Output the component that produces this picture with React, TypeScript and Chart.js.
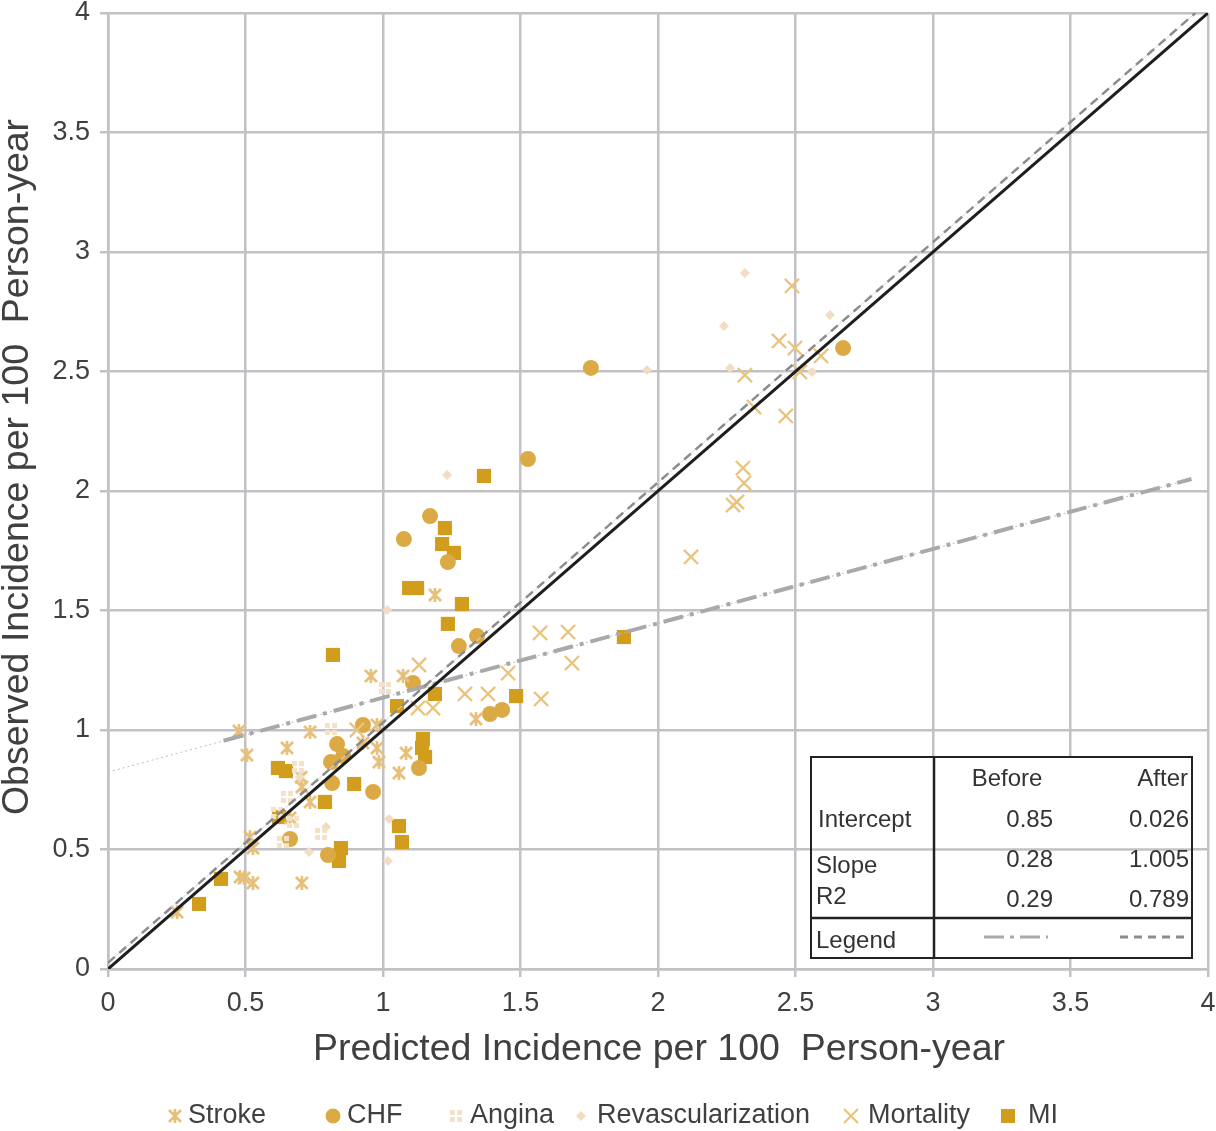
import React, { useEffect, useRef } from 'react';
import { Chart, registerables } from 'chart.js';

Chart.register(...registerables);

// ---------- data ----------
const xTickValues = [0, 0.5, 1, 1.5, 2, 2.5, 3, 3.5, 4];
const yTickValues = [0, 0.5, 1, 1.5, 2, 2.5, 3, 3.5, 4];

const strokePts: number[][] = [
  [0.476, 0.996], [0.505, 0.895], [0.651, 0.925], [0.702, 0.803], [0.705, 0.762],
  [0.662, 0.632], [0.516, 0.552], [0.527, 0.506], [0.48, 0.385], [0.495, 0.381],
  [0.527, 0.36], [0.705, 0.36], [0.251, 0.238], [0.956, 1.226], [1.073, 1.226],
  [0.735, 0.992], [0.978, 1.021], [0.927, 0.946], [0.978, 0.925], [0.985, 0.866],
  [1.084, 0.904], [1.058, 0.82], [0.735, 0.699], [1.189, 1.565], [1.338, 1.046],
];

const chfPts: number[][] = [
  [1.756, 2.515], [2.673, 2.598], [1.527, 2.134], [1.171, 1.895], [1.076, 1.799],
  [1.236, 1.703], [1.342, 1.393], [1.276, 1.351], [1.109, 1.197], [0.927, 1.021],
  [0.833, 0.941], [0.855, 0.891], [0.811, 0.866], [0.815, 0.778], [0.964, 0.741],
  [1.131, 0.841], [1.389, 1.067], [1.433, 1.084], [0.662, 0.544], [0.8, 0.477],
];

const anginaPts: number[][] = [
  [1.007, 1.176], [0.811, 1.004], [0.691, 0.845], [0.651, 0.72], [0.615, 0.653],
  [0.673, 0.615], [0.775, 0.565], [0.636, 0.531],
];

const revascPts: number[][] = [
  [2.316, 2.912], [2.24, 2.69], [2.625, 2.736], [2.262, 2.515], [1.96, 2.506],
  [2.56, 2.498], [1.233, 2.067], [1.015, 1.502], [1.022, 0.628], [1.018, 0.452],
  [0.793, 0.594], [0.731, 0.49], [0.698, 0.803],
];

const mortalityPts: number[][] = [
  [2.487, 2.858], [2.44, 2.628], [2.498, 2.598], [2.593, 2.565], [2.516, 2.498],
  [2.316, 2.485], [2.349, 2.351], [2.465, 2.314], [2.309, 2.096], [2.313, 2.033],
  [2.273, 1.941], [2.287, 1.954], [2.12, 1.724], [1.571, 1.406], [1.673, 1.41],
  [1.687, 1.28], [1.455, 1.238], [1.298, 1.151], [1.382, 1.151], [1.575, 1.13],
  [1.131, 1.272], [1.127, 1.092], [1.182, 1.092], [0.905, 1.0],
];

const miPts: number[][] = [
  [1.367, 2.063], [1.225, 1.845], [1.215, 1.778], [1.258, 1.741], [1.095, 1.594],
  [1.124, 1.594], [1.287, 1.527], [1.236, 1.444], [0.818, 1.314], [1.876, 1.389],
  [1.484, 1.142], [1.189, 1.151], [1.051, 1.1], [1.145, 0.962], [1.142, 0.925],
  [1.153, 0.887], [0.618, 0.841], [0.647, 0.828], [0.895, 0.774], [0.789, 0.699],
  [0.622, 0.636], [1.058, 0.598], [1.069, 0.531], [0.847, 0.506], [0.84, 0.452],
  [0.411, 0.377], [0.331, 0.272],
];

const identityLine: number[][] = [[0, 0], [4, 4]];
const afterFitLine: number[][] = [[0, 0.026], [3.954, 4]];
const beforeFitFull: number[][] = [[0, 0.824], [3.94, 2.05]];
const beforeFitThick: number[][] = [[0.42, 0.955], [3.94, 2.05]];

const legendLabels = ['Stroke', 'CHF', 'Angina', 'Revascularization', 'Mortality', 'MI'];

const tableHeader = ['Before', 'After'];
const tableRowLabels = ['Intercept', 'Slope', 'R2', 'Legend'];
const beforeValues = ['0.85', '0.28', '0.29'];
const afterValues = ['0.026', '1.005', '0.789'];

const xTitle = 'Predicted Incidence per 100  Person-year';
const yTitle = 'Observed Incidence per 100  Person-year';

// ---------- styles ----------
const FONT = "'Liberation Sans', Arial, Helvetica, sans-serif";
const GRID = '#c2c2c6';
const TEXT = '#404040';
const C_STROKE = '#e6c07a';
const C_CHF = '#dcaa45';
const C_ANGINA = '#f2e2c6';
const C_REVASC = '#f3ddc2';
const C_MORT = '#e9c47f';
const C_MI = '#d29c1c';
const C_BEFORE = '#a9a9a9';
const C_AFTER = '#8c8c8c';

const toXY = (arr: number[][]) => arr.map(([x, y]) => ({ x, y }));

function makeStrokeMarker(color: string) {
  const c = document.createElement('canvas');
  c.width = 16; c.height = 16;
  const g = c.getContext('2d')!;
  g.strokeStyle = color; g.lineWidth = 2.7;
  g.beginPath();
  g.moveTo(2, 2); g.lineTo(14, 14);
  g.moveTo(14, 2); g.lineTo(2, 14);
  g.moveTo(8, 1); g.lineTo(8, 15);
  g.stroke();
  return c;
}

function makeAnginaMarker(color: string) {
  const c = document.createElement('canvas');
  c.width = 12; c.height = 12;
  const g = c.getContext('2d')!;
  g.fillStyle = color;
  g.fillRect(0, 0, 5, 5); g.fillRect(7, 0, 5, 5);
  g.fillRect(0, 7, 5, 5); g.fillRect(7, 7, 5, 5);
  return c;
}

export default function App() {
  const ref = useRef<HTMLCanvasElement | null>(null);

  useEffect(() => {
    const canvas = ref.current;
    if (!canvas) return;
    const strokeImg = makeStrokeMarker(C_STROKE);
    const anginaImg = makeAnginaMarker(C_ANGINA);

    const overlay = {
      id: 'overlay',
      afterDatasetsDraw(chart: any) {
        const ctx = chart.ctx as CanvasRenderingContext2D;
        const ys = chart.scales.y;
        ctx.save();
        // table
        const L = 811, T = 757, R = 1192, B = 958, D = 934, H = 918;
        ctx.fillStyle = '#ffffff';
        ctx.fillRect(L, T, R - L, B - T);
        const y05 = ys.getPixelForValue(0.5);
        ctx.strokeStyle = GRID; ctx.lineWidth = 2.5;
        ctx.beginPath(); ctx.moveTo(L, y05); ctx.lineTo(R, y05); ctx.stroke();
        ctx.strokeStyle = '#222222'; ctx.lineWidth = 2;
        ctx.strokeRect(L, T, R - L, B - T);
        ctx.lineWidth = 2.5;
        ctx.beginPath();
        ctx.moveTo(D, T); ctx.lineTo(D, B);
        ctx.moveTo(L, H); ctx.lineTo(R, H);
        ctx.stroke();
        ctx.fillStyle = '#333333';
        ctx.font = `24px ${FONT}`;
        ctx.textBaseline = 'middle';
        ctx.textAlign = 'center';
        ctx.fillText(tableHeader[0], 1007, 779);
        ctx.textAlign = 'right';
        ctx.fillText(tableHeader[1], 1188, 779);
        ctx.textAlign = 'left';
        ctx.fillText(tableRowLabels[0], 818, 820);
        ctx.fillText(tableRowLabels[1], 816, 866);
        ctx.fillText(tableRowLabels[2], 816, 897);
        ctx.fillText(tableRowLabels[3], 816, 941);
        ctx.textAlign = 'right';
        const rowsY = [820, 860, 900];
        beforeValues.forEach((v, i) => ctx.fillText(v, 1053, rowsY[i]));
        afterValues.forEach((v, i) => ctx.fillText(v, 1189, rowsY[i]));
        // legend lines in table
        ctx.lineWidth = 3;
        ctx.strokeStyle = C_BEFORE;
        ctx.setLineDash([20, 6, 4, 6]);
        ctx.beginPath(); ctx.moveTo(984, 937); ctx.lineTo(1048, 937); ctx.stroke();
        ctx.strokeStyle = C_AFTER;
        ctx.setLineDash([8, 6]);
        ctx.beginPath(); ctx.moveTo(1120, 937); ctx.lineTo(1184, 937); ctx.stroke();
        ctx.setLineDash([]);
        ctx.restore();
      },
      afterDraw(chart: any) {
        const ctx = chart.ctx as CanvasRenderingContext2D;
        ctx.save();
        ctx.fillStyle = TEXT;
        ctx.font = `37.5px ${FONT}`;
        ctx.textAlign = 'center';
        ctx.textBaseline = 'middle';
        const ca = chart.chartArea;
        ctx.fillText(xTitle, (ca.left + ca.right) / 2 + 1, 1050);
        ctx.save();
        ctx.translate(18, 467);
        ctx.rotate(-Math.PI / 2);
        ctx.fillText(yTitle, 0, 0);
        ctx.restore();

        // legend
        const ly = 1116;
        const markerX = [175, 333, 456, 581, 851, 1008];
        const textX = [188, 347, 470, 597, 868, 1028];
        ctx.font = `27px ${FONT}`;
        ctx.textAlign = 'left';
        legendLabels.forEach((lab, i) => {
          const mx = markerX[i];
          if (i === 0) ctx.drawImage(strokeImg, mx - 8, ly - 8);
          if (i === 1) {
            ctx.fillStyle = C_CHF;
            ctx.beginPath(); ctx.arc(mx, ly, 7.5, 0, Math.PI * 2); ctx.fill();
          }
          if (i === 2) ctx.drawImage(anginaImg, mx - 6, ly - 6);
          if (i === 3) {
            ctx.fillStyle = C_REVASC;
            ctx.beginPath();
            ctx.moveTo(mx - 5, ly); ctx.lineTo(mx, ly - 5); ctx.lineTo(mx + 5, ly); ctx.lineTo(mx, ly + 5);
            ctx.closePath(); ctx.fill();
          }
          if (i === 4) {
            ctx.strokeStyle = C_MORT; ctx.lineWidth = 2.3;
            ctx.beginPath();
            ctx.moveTo(mx - 7, ly - 7); ctx.lineTo(mx + 7, ly + 7);
            ctx.moveTo(mx + 7, ly - 7); ctx.lineTo(mx - 7, ly + 7);
            ctx.stroke();
          }
          if (i === 5) {
            ctx.fillStyle = C_MI;
            ctx.fillRect(mx - 7, ly - 7, 14, 14);
          }
          ctx.fillStyle = TEXT;
          ctx.fillText(lab, textX[i], ly);
        });
        ctx.restore();
      },
    };

    const lineDs = (data: number[][], color: string, width: number, dash: number[], order: number) => ({
      type: 'line' as const,
      data: toXY(data),
      borderColor: color,
      borderWidth: width,
      borderDash: dash,
      pointRadius: 0,
      showLine: true,
      fill: false,
      order,
    });

    const zeroPad = (s: any) => {
      s.paddingLeft = 0; s.paddingRight = 0; s.paddingTop = 0; s.paddingBottom = 0;
    };

    const chart = new Chart(canvas, {
      type: 'scatter',
      data: {
        datasets: [
          lineDs(identityLine, '#1e1e1e', 3, [], 0),
          lineDs(afterFitLine, C_AFTER, 2.5, [9, 6], 1),
          lineDs(beforeFitThick, C_BEFORE, 4, [20, 7, 4, 7], 2),
          lineDs(beforeFitFull, '#bdbdbd', 1, [2, 3], 3),
          lineDs(afterFitLine, '#dcdcdc', 1, [], 4),
          { label: 'Angina', data: toXY(anginaPts), pointStyle: anginaImg as any, pointRadius: 6, order: 5 },
          { label: 'Revascularization', data: toXY(revascPts), pointStyle: 'rectRot', pointRadius: 5, pointBackgroundColor: C_REVASC, pointBorderColor: C_REVASC, pointBorderWidth: 0, order: 6 },
          { label: 'Stroke', data: toXY(strokePts), pointStyle: strokeImg as any, pointRadius: 8, order: 7 },
          { label: 'Mortality', data: toXY(mortalityPts), pointStyle: 'crossRot', pointRadius: 10, pointBorderColor: C_MORT, pointBackgroundColor: C_MORT, pointBorderWidth: 2.3, order: 8 },
          { label: 'CHF', data: toXY(chfPts), pointStyle: 'circle', pointRadius: 8, pointBackgroundColor: C_CHF, pointBorderColor: C_CHF, pointBorderWidth: 0, order: 9 },
          { label: 'MI', data: toXY(miPts), pointStyle: 'rect', pointRadius: 10, pointBackgroundColor: C_MI, pointBorderColor: C_MI, pointBorderWidth: 0, order: 10 },
        ] as any,
      },
      options: {
        responsive: false,
        animation: false,
        devicePixelRatio: 1,
        layout: { autoPadding: false, padding: { top: 13, right: 8, left: 0, bottom: 0 } },
        plugins: { legend: { display: false }, tooltip: { enabled: false } },
        events: [],
        scales: {
          x: {
            type: 'linear',
            min: 0,
            max: 4,
            afterBuildTicks: (s: any) => { s.ticks = xTickValues.map((v) => ({ value: v })); },
            afterFit: (s: any) => { s.height = 162; zeroPad(s); },
            ticks: {
              autoSkip: false,
              maxRotation: 0,
              padding: 10,
              color: TEXT,
              font: { family: FONT, size: 27 },
              callback: (v: any) => String(v),
            },
            grid: { color: GRID, lineWidth: 2.5, tickLength: 8, drawTicks: true, tickColor: GRID },
            border: { display: true, color: GRID, width: 2.5 },
          },
          y: {
            type: 'linear',
            min: 0,
            max: 4,
            afterBuildTicks: (s: any) => { s.ticks = yTickValues.map((v) => ({ value: v })); },
            afterFit: (s: any) => { s.width = 108; zeroPad(s); },
            ticks: {
              autoSkip: false,
              padding: 10,
              color: TEXT,
              font: { family: FONT, size: 27 },
              callback: (v: any) => String(v),
            },
            grid: { color: GRID, lineWidth: 2.5, tickLength: 8, drawTicks: true, tickColor: GRID },
            border: { display: true, color: GRID, width: 2.5 },
          },
        },
      } as any,
      plugins: [overlay],
    });

    return () => chart.destroy();
  }, []);

  return (
    <div style={{ position: 'absolute', left: 0, top: 0, width: 1216, height: 1131, background: '#ffffff', overflow: 'hidden' }}>
      <canvas ref={ref} width={1216} height={1131} style={{ display: 'block' }} />
    </div>
  );
}
